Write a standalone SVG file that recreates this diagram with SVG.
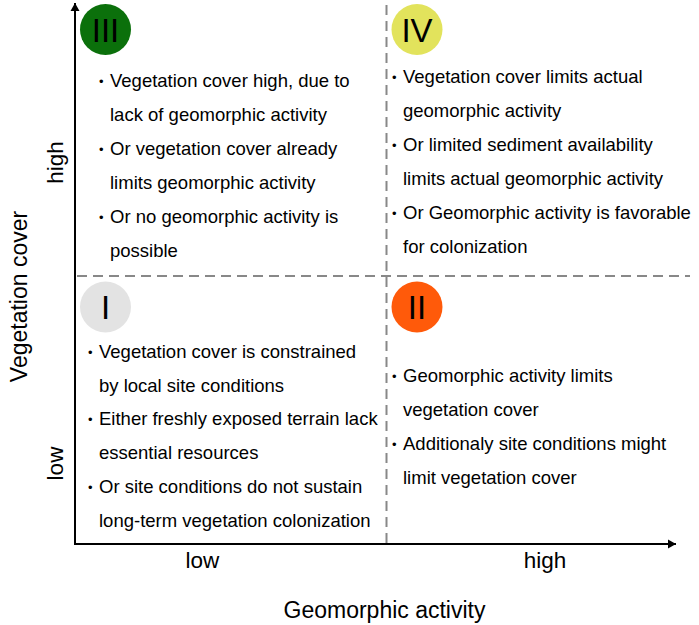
<svg xmlns="http://www.w3.org/2000/svg" width="699" height="625" viewBox="0 0 699 625">
<style>
.t{font-family:"Liberation Sans",Arial,sans-serif;font-size:18.5px;fill:#000}
.b{font-family:"Liberation Sans",Arial,sans-serif;font-size:13px;fill:#000}
.ax{font-family:"Liberation Sans",Arial,sans-serif;font-size:22.5px;fill:#000}
.rn{font-family:"Liberation Sans",Arial,sans-serif;font-size:33px;fill:#000;text-anchor:middle}
.dash{stroke:#888;stroke-width:2;stroke-dasharray:10 6;fill:none}
.axis{stroke:#000;stroke-width:2;fill:none}
</style>
<defs>
<marker id="arr" markerWidth="10" markerHeight="10" refX="8" refY="5" orient="auto" markerUnits="userSpaceOnUse">
<path d="M0,0.5 L8,5 L0,9.5 Z" fill="#000"/>
</marker>
</defs>
<rect width="699" height="625" fill="#fff"/>
<g id="connectors">
<line class="dash" x1="77" y1="276" x2="690" y2="276"/>
<line class="dash" x1="386.5" y1="5" x2="386.5" y2="543"/>
<line class="axis" x1="75" y1="545" x2="75" y2="3" marker-end="url(#arr)"/>
<line class="axis" x1="74" y1="544" x2="676" y2="544" marker-end="url(#arr)"/>
</g>
<g id="axis-labels">
<text class="ax" text-anchor="middle" transform="translate(27,296.5) rotate(-90)" style="font-size:23px">Vegetation cover</text>
<text class="ax" text-anchor="middle" transform="translate(63,162.5) rotate(-90)">high</text>
<text class="ax" text-anchor="middle" transform="translate(63,463.5) rotate(-90)">low</text>
<text class="ax" text-anchor="middle" x="202.5" y="568">low</text>
<text class="ax" text-anchor="middle" x="545" y="568">high</text>
<text class="ax" text-anchor="middle" x="384.5" y="618" style="font-size:23px">Geomorphic activity</text>
</g>
<g id="quadrant-III">
<circle cx="105.5" cy="29.5" r="25.5" fill="#0b700b"/>
<text class="rn" x="105.5" y="41.5">III</text>
<text class="b" x="99" y="86">•</text>
<text class="t" x="110" y="87">Vegetation cover high, due to</text>
<text class="t" x="110" y="121">lack of geomorphic activity</text>
<text class="b" x="99" y="154">•</text>
<text class="t" x="110" y="155">Or vegetation cover already</text>
<text class="t" x="110" y="189">limits geomorphic activity</text>
<text class="b" x="99" y="222">•</text>
<text class="t" x="110" y="223">Or no geomorphic activity is</text>
<text class="t" x="110" y="257">possible</text>
</g>
<g id="quadrant-IV">
<circle cx="417" cy="29.5" r="25.5" fill="#e2e35c"/>
<text class="rn" x="417" y="41.5">IV</text>
<text class="b" x="392" y="82">•</text>
<text class="t" x="403" y="83">Vegetation cover limits actual</text>
<text class="t" x="403" y="117">geomorphic activity</text>
<text class="b" x="392" y="150">•</text>
<text class="t" x="403" y="151">Or limited sediment availability</text>
<text class="t" x="403" y="185">limits actual geomorphic activity</text>
<text class="b" x="392" y="218">•</text>
<text class="t" x="403" y="219">Or Geomorphic activity is favorable</text>
<text class="t" x="403" y="253">for colonization</text>
</g>
<g id="quadrant-I">
<circle cx="105.5" cy="307" r="25.5" fill="#e3e3e3"/>
<text class="rn" x="105.5" y="319">I</text>
<text class="b" x="88" y="357">•</text>
<text class="t" x="99" y="358">Vegetation cover is constrained</text>
<text class="t" x="99" y="392">by local site conditions</text>
<text class="b" x="88" y="424">•</text>
<text class="t" x="99" y="425">Either freshly exposed terrain lack</text>
<text class="t" x="99" y="459">essential resources</text>
<text class="b" x="88" y="492">•</text>
<text class="t" x="99" y="493">Or site conditions do not sustain</text>
<text class="t" x="99" y="527">long-term vegetation colonization</text>
</g>
<g id="quadrant-II">
<circle cx="417" cy="307" r="25.5" fill="#ff5a0a"/>
<text class="rn" x="417" y="319">II</text>
<text class="b" x="392" y="381">•</text>
<text class="t" x="403" y="382">Geomorphic activity limits</text>
<text class="t" x="403" y="416">vegetation cover</text>
<text class="b" x="392" y="449">•</text>
<text class="t" x="403" y="450">Additionaly site conditions might</text>
<text class="t" x="403" y="484">limit vegetation cover</text>
</g>
</svg>
